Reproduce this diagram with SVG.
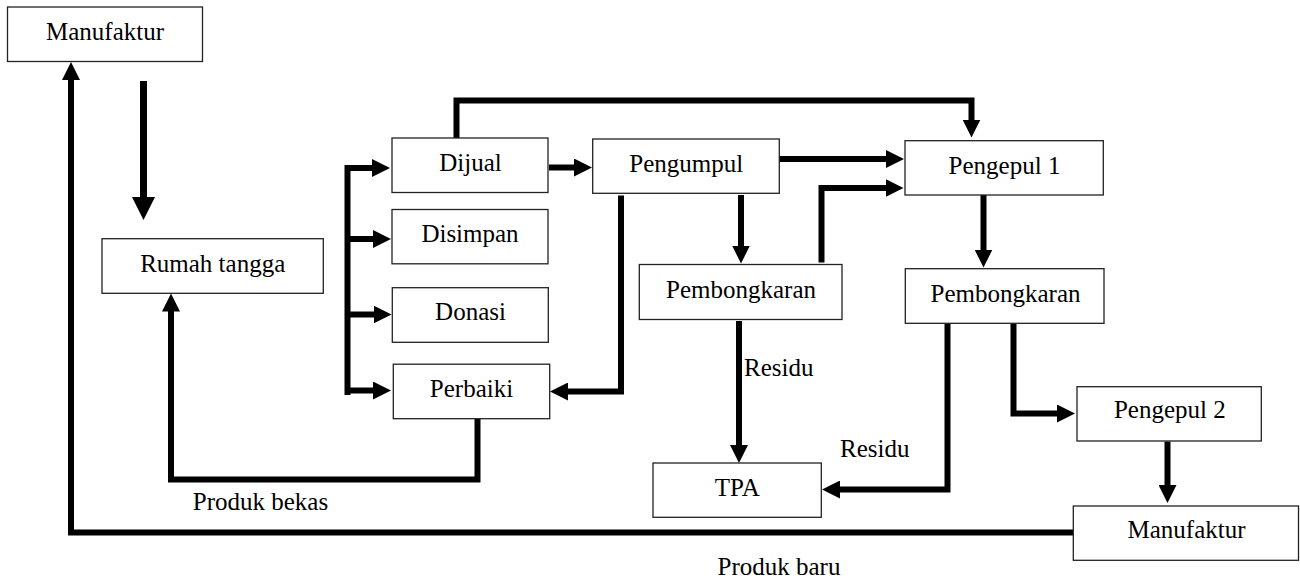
<svg xmlns="http://www.w3.org/2000/svg" width="1300" height="581" viewBox="0 0 1300 581">
<style>
.box{fill:#fff;stroke:#222;stroke-width:1.3}
.lbl{font-family:"Liberation Serif","Times New Roman",serif;font-size:25px;fill:#000;text-anchor:middle}
.txt{font-family:"Liberation Serif","Times New Roman",serif;font-size:25px;fill:#000}
.ln{fill:none;stroke:#000;stroke-width:6;stroke-linejoin:miter}
.ar{fill:none;stroke:#000;stroke-width:6;stroke-linejoin:miter;marker-end:url(#ah)}
</style>
<defs>
<marker id="ah" markerUnits="userSpaceOnUse" markerWidth="18" markerHeight="18" viewBox="0 0 18 18" refX="2" refY="9" orient="auto">
<path d="M0,0 L18,9 L0,18 z" fill="#000"/>
</marker>
<marker id="ahBig" markerUnits="userSpaceOnUse" markerWidth="23" markerHeight="23" viewBox="0 0 23 23" refX="2" refY="11.5" orient="auto">
<path d="M0,0 L23,11.5 L0,23 z" fill="#000"/>
</marker>
</defs>

<g id="connectors">
<path d="M143.5,81 V199" fill="none" stroke="#000" stroke-width="7" marker-end="url(#ahBig)"/>
<path class="ar" d="M1073,532.5 H71 V78"/>
<path class="ar" d="M477.5,418.7 V479.5 H171 V309.5"/>
<path class="ln" d="M347.5,165 V395"/>
<path class="ar" d="M347.5,168 H374"/>
<path class="ar" d="M347.5,239 H375"/>
<path class="ar" d="M347.5,314.5 H375.5"/>
<path class="ar" d="M347.5,390.5 H375"/>
<path class="ar" d="M549,167.5 H576"/>
<path class="ar" d="M456.5,138 V100.5 H971.5 V121.5"/>
<path class="ar" d="M779,159 H888"/>
<path class="ar" d="M741,195 V247.5"/>
<path class="ar" d="M621,195.5 V391.5 H566"/>
<path class="ar" d="M821.5,262.5 V188 H887.5"/>
<path class="ar" d="M739,321 V447"/>
<path class="ar" d="M983.5,195 V251.5"/>
<path class="ar" d="M1013.5,323.5 V413.5 H1059"/>
<path class="ar" d="M947.5,323.5 V489.5 H838"/>
<path class="ar" d="M1167.5,441.5 V487"/>
<text class="txt" x="744" y="376">Residu</text>
<text class="txt" x="840" y="456.5">Residu</text>
<text class="lbl" x="260.5" y="510">Produk bekas</text>
<text class="lbl" x="779" y="575">Produk baru</text>
</g>

<g id="manufaktur1"><rect class="box" x="7.5" y="7" width="195" height="54.5"/><text class="lbl" x="105" y="40">Manufaktur</text></g>
<g id="rumah-tangga"><rect class="box" x="102" y="238.7" width="221.3" height="54.6"/><text class="lbl" x="212.7" y="271.7">Rumah tangga</text></g>
<g id="dijual"><rect class="box" x="392" y="138" width="156" height="54.5"/><text class="lbl" x="470.5" y="170.7">Dijual</text></g>
<g id="disimpan"><rect class="box" x="392" y="209.5" width="156" height="54.3"/><text class="lbl" x="470" y="241.7">Disimpan</text></g>
<g id="donasi"><rect class="box" x="392.3" y="287.7" width="156" height="54.6"/><text class="lbl" x="470.5" y="320">Donasi</text></g>
<g id="perbaiki"><rect class="box" x="393.3" y="364.2" width="156.4" height="54.5"/><text class="lbl" x="471.5" y="396.7">Perbaiki</text></g>
<g id="pengumpul"><rect class="box" x="592.7" y="139" width="186.6" height="54.3"/><text class="lbl" x="686.3" y="171.7">Pengumpul</text></g>
<g id="pembongkaran1"><rect class="box" x="639.3" y="264.5" width="202.7" height="55"/><text class="lbl" x="741" y="298.3">Pembongkaran</text></g>
<g id="pengepul1"><rect class="box" x="905" y="140.7" width="198.3" height="54.3"/><text class="lbl" x="1004.5" y="174">Pengepul 1</text></g>
<g id="pembongkaran2"><rect class="box" x="905.3" y="268.7" width="198.7" height="54.6"/><text class="lbl" x="1005.5" y="301.7">Pembongkaran</text></g>
<g id="pengepul2"><rect class="box" x="1077" y="386.7" width="184.3" height="54.3"/><text class="lbl" x="1169.8" y="418.3">Pengepul 2</text></g>
<g id="tpa"><rect class="box" x="653" y="463" width="168.3" height="54.3"/><text class="lbl" x="737.3" y="496">TPA</text></g>
<g id="manufaktur2"><rect class="box" x="1073.3" y="506" width="225.2" height="54.3"/><text class="lbl" x="1186.5" y="538.3">Manufaktur</text></g>
</svg>
